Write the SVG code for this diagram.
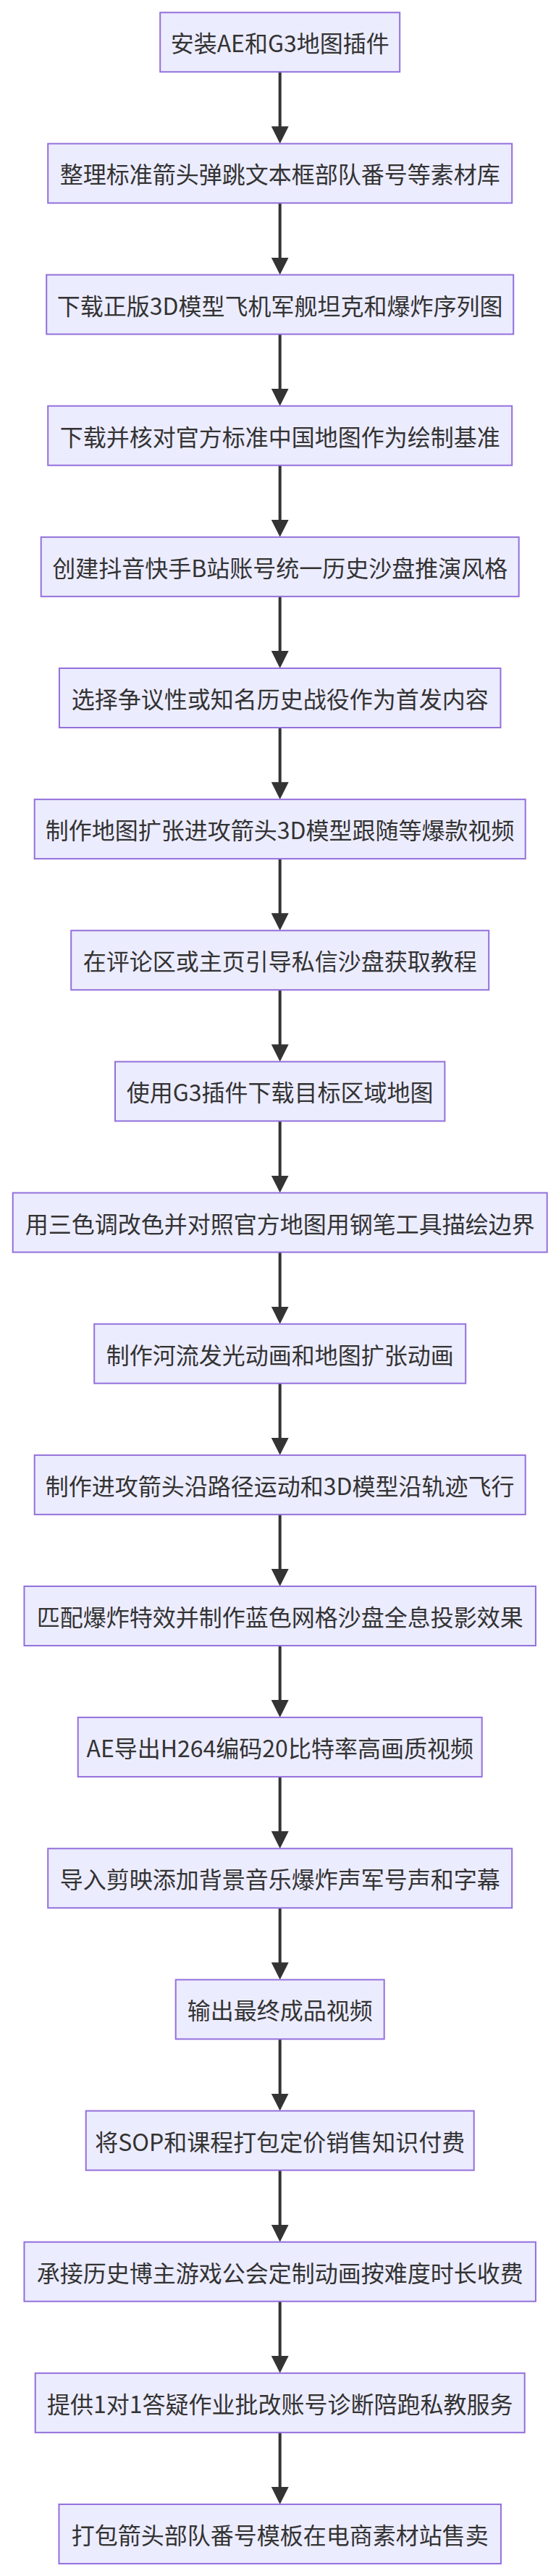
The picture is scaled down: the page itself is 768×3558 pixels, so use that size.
<svg xmlns="http://www.w3.org/2000/svg" width="768" height="3558" viewBox="0 0 768 3558">
<defs>
<style>
.node rect{fill:#ECECFF;stroke:#9370DB;stroke-width:2}
.node text{font-family:"Noto Sans CJK SC","Noto Sans",sans-serif;font-size:32px;fill:#333333;text-anchor:middle;dominant-baseline:central}
.edges line{stroke:#333333;stroke-width:4;fill:none}
</style>
<marker id="arrow" markerUnits="userSpaceOnUse" markerWidth="24" markerHeight="24" refX="4" refY="12" orient="auto" viewBox="0 0 24 24">
<path d="M0,0 L24,12 L0,24 z" fill="#333333"/>
</marker>
</defs>
<rect width="768" height="3558" fill="#ffffff"/>
<g class="edges">
<line x1="386.7" y1="99.3" x2="386.7" y2="178.44" marker-end="url(#arrow)"/>
<line x1="386.7" y1="280.44" x2="386.7" y2="359.58" marker-end="url(#arrow)"/>
<line x1="386.7" y1="461.58" x2="386.7" y2="540.72" marker-end="url(#arrow)"/>
<line x1="386.7" y1="642.72" x2="386.7" y2="721.86" marker-end="url(#arrow)"/>
<line x1="386.7" y1="823.86" x2="386.7" y2="903" marker-end="url(#arrow)"/>
<line x1="386.7" y1="1005" x2="386.7" y2="1084.14" marker-end="url(#arrow)"/>
<line x1="386.7" y1="1186.14" x2="386.7" y2="1265.28" marker-end="url(#arrow)"/>
<line x1="386.7" y1="1367.28" x2="386.7" y2="1446.42" marker-end="url(#arrow)"/>
<line x1="386.7" y1="1548.42" x2="386.7" y2="1627.56" marker-end="url(#arrow)"/>
<line x1="386.7" y1="1729.56" x2="386.7" y2="1808.7" marker-end="url(#arrow)"/>
<line x1="386.7" y1="1910.7" x2="386.7" y2="1989.84" marker-end="url(#arrow)"/>
<line x1="386.7" y1="2091.84" x2="386.7" y2="2170.98" marker-end="url(#arrow)"/>
<line x1="386.7" y1="2272.98" x2="386.7" y2="2352.12" marker-end="url(#arrow)"/>
<line x1="386.7" y1="2454.12" x2="386.7" y2="2533.26" marker-end="url(#arrow)"/>
<line x1="386.7" y1="2635.26" x2="386.7" y2="2714.4" marker-end="url(#arrow)"/>
<line x1="386.7" y1="2816.4" x2="386.7" y2="2895.54" marker-end="url(#arrow)"/>
<line x1="386.7" y1="2997.54" x2="386.7" y2="3076.68" marker-end="url(#arrow)"/>
<line x1="386.7" y1="3178.68" x2="386.7" y2="3257.82" marker-end="url(#arrow)"/>
<line x1="386.7" y1="3359.82" x2="386.7" y2="3438.96" marker-end="url(#arrow)"/>
</g>
<g id="n0" class="node"><rect x="221.2" y="17.3" width="331" height="82"/><text x="386.7" y="58.3">安装AE和G3地图插件</text></g>
<g id="n1" class="node"><rect x="66.2" y="198.44" width="641" height="82"/><text x="386.7" y="239.44">整理标准箭头弹跳文本框部队番号等素材库</text></g>
<g id="n2" class="node"><rect x="64.2" y="379.58" width="645" height="82"/><text x="386.7" y="420.58">下载正版3D模型飞机军舰坦克和爆炸序列图</text></g>
<g id="n3" class="node"><rect x="66.2" y="560.72" width="641" height="82"/><text x="386.7" y="601.72">下载并核对官方标准中国地图作为绘制基准</text></g>
<g id="n4" class="node"><rect x="56.7" y="741.86" width="660" height="82"/><text x="386.7" y="782.86">创建抖音快手B站账号统一历史沙盘推演风格</text></g>
<g id="n5" class="node"><rect x="81.95" y="923" width="609.5" height="82"/><text x="386.7" y="964">选择争议性或知名历史战役作为首发内容</text></g>
<g id="n6" class="node"><rect x="47.7" y="1104.14" width="678" height="82"/><text x="386.7" y="1145.14">制作地图扩张进攻箭头3D模型跟随等爆款视频</text></g>
<g id="n7" class="node"><rect x="98.2" y="1285.28" width="577" height="82"/><text x="386.7" y="1326.28">在评论区或主页引导私信沙盘获取教程</text></g>
<g id="n8" class="node"><rect x="159" y="1466.42" width="455.4" height="82"/><text x="386.7" y="1507.42">使用G3插件下载目标区域地图</text></g>
<g id="n9" class="node"><rect x="17.7" y="1647.56" width="738" height="82"/><text x="386.7" y="1688.56">用三色调改色并对照官方地图用钢笔工具描绘边界</text></g>
<g id="n10" class="node"><rect x="130.2" y="1828.7" width="513" height="82"/><text x="386.7" y="1869.7">制作河流发光动画和地图扩张动画</text></g>
<g id="n11" class="node"><rect x="47.7" y="2009.84" width="678" height="82"/><text x="386.7" y="2050.84">制作进攻箭头沿路径运动和3D模型沿轨迹飞行</text></g>
<g id="n12" class="node"><rect x="33.45" y="2190.98" width="706.5" height="82"/><text x="386.7" y="2231.98">匹配爆炸特效并制作蓝色网格沙盘全息投影效果</text></g>
<g id="n13" class="node"><rect x="107.7" y="2372.12" width="558" height="82"/><text x="386.7" y="2413.12">AE导出H264编码20比特率高画质视频</text></g>
<g id="n14" class="node"><rect x="66.2" y="2553.26" width="641" height="82"/><text x="386.7" y="2594.26">导入剪映添加背景音乐爆炸声军号声和字幕</text></g>
<g id="n15" class="node"><rect x="242.7" y="2734.4" width="288" height="82"/><text x="386.7" y="2775.4">输出最终成品视频</text></g>
<g id="n16" class="node"><rect x="118.7" y="2915.54" width="536" height="82"/><text x="386.7" y="2956.54">将SOP和课程打包定价销售知识付费</text></g>
<g id="n17" class="node"><rect x="33.45" y="3096.68" width="706.5" height="82"/><text x="386.7" y="3137.68">承接历史博主游戏公会定制动画按难度时长收费</text></g>
<g id="n18" class="node"><rect x="48.7" y="3277.82" width="676" height="82"/><text x="386.7" y="3318.82">提供1对1答疑作业批改账号诊断陪跑私教服务</text></g>
<g id="n19" class="node"><rect x="81.45" y="3458.96" width="610.5" height="82"/><text x="386.7" y="3499.96">打包箭头部队番号模板在电商素材站售卖</text></g>
</svg>
